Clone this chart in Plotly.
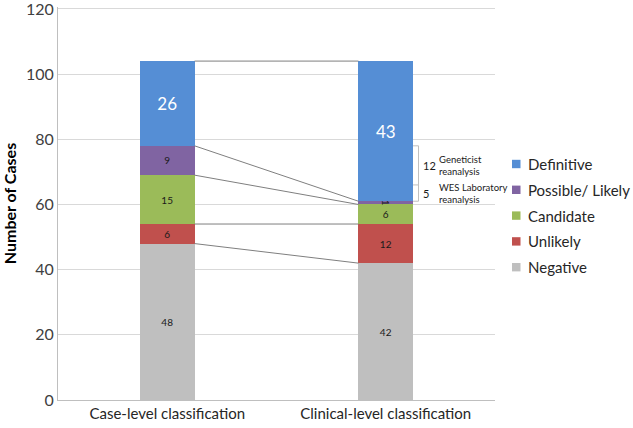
import plotly.graph_objects as go

categories = ["Case-level classification", "Clinical-level classification"]
series_names = ["Negative", "Unlikely", "Candidate", "Possible/ Likely", "Definitive"]
negative = [48, 42]
unlikely = [6, 12]
candidate = [15, 6]
possible = [9, 1]
definitive = [26, 43]
colors = ["#BFBFBF", "#C0504D", "#9BBB59", "#8064A2", "#558ED5"]
reanalysis_counts = [12, 5]
reanalysis_labels = ["Geneticist<br>reanalysis", "WES Laboratory<br>reanalysis"]
y_ticks = [0, 20, 40, 60, 80, 100, 120]

FONT = "Lato"
values = [negative, unlikely, candidate, possible, definitive]
bar_width = 0.25

W, H = 633, 428
ML, MR, MT, MB = 58, 138, 7, 28
PW, PH = W - ML - MR, H - MT - MB


def px_x(px):
    return (px - ML) / PW


def px_y(py):
    return (H - MB - py) / PH


fig = go.Figure()
for i, (name, vals, col) in enumerate(zip(series_names, values, colors)):
    big = name == "Definitive"
    fig.add_trace(go.Bar(
        x=categories, y=vals, name=name, marker_color=col, marker_line_width=0,
        width=bar_width, text=[str(v) for v in vals], textposition="inside",
        insidetextanchor="middle", constraintext="none",
        textfont=dict(family=FONT, size=17 if big else 10, color="white" if big else "#1a1a1a"),
        showlegend=False,
    ))

# cumulative boundaries
cum = []
run = [0, 0]
for vals in values:
    run = [run[0] + vals[0], run[1] + vals[1]]
    cum.append(list(run))

x0 = 0 + bar_width / 2
x1 = 1 - bar_width / 2
connectors = [(c[0], c[1]) for c in reversed(cum)]
for ya, yb in connectors:
    fig.add_shape(type="line", xref="x", yref="y", x0=x0, x1=x1, y0=ya, y1=yb,
                  line=dict(color="#7F7F7F", width=1))

# brackets on right bar
bx0 = 1 + bar_width / 2
bx1 = bx0 + 0.025
b_top = cum[3][0]  # 78
b_mid = b_top - reanalysis_counts[0]  # 66
b_bot = b_mid - reanalysis_counts[1]  # 61
for ya, yb in [(b_top, b_mid), (b_mid, b_bot)]:
    fig.add_shape(type="line", xref="x", yref="y", x0=bx0, x1=bx1, y0=ya, y1=ya,
                  line=dict(color="#BFBFBF", width=1))
    fig.add_shape(type="line", xref="x", yref="y", x0=bx1, x1=bx1, y0=ya, y1=yb,
                  line=dict(color="#BFBFBF", width=1))
fig.add_shape(type="line", xref="x", yref="y", x0=bx0, x1=bx1, y0=b_bot, y1=b_bot,
              line=dict(color="#BFBFBF", width=1))

for (ya, yb), cnt, lab in zip([(b_top, b_mid), (b_mid, b_bot)], reanalysis_counts, reanalysis_labels):
    ym = (ya + yb) / 2
    fig.add_annotation(x=bx1 + 0.02, y=ym, xref="x", yref="y", text=str(cnt), showarrow=False,
                       xanchor="left", xshift=-2, font=dict(family=FONT, size=11, color="#1a1a1a"))
    fig.add_annotation(x=bx1 + 0.093, y=ym, xref="x", yref="y", text=lab, showarrow=False,
                       xanchor="left", align="left", xshift=-2,
                       font=dict(family=FONT, size=9.5, color="#1a1a1a"))

# legend (Definitive on top), drawn as swatches + labels
LEG_SQ_X0, LEG_SQ_X1, LEG_TXT_X = 512, 520.5, 526
LEG_Y0, LEG_STEP, LEG_HALF = 164, 25.8, 4.2
for k, idx in enumerate(reversed(range(len(series_names)))):
    cy = LEG_Y0 + k * LEG_STEP
    fig.add_shape(type="rect", xref="paper", yref="paper",
                  x0=px_x(LEG_SQ_X0), x1=px_x(LEG_SQ_X1),
                  y0=px_y(cy + LEG_HALF), y1=px_y(cy - LEG_HALF),
                  fillcolor=colors[idx], line=dict(width=0))
    fig.add_annotation(xref="paper", yref="paper", x=px_x(LEG_TXT_X), y=px_y(cy),
                       text=series_names[idx], showarrow=False, xanchor="left", yanchor="middle",
                       font=dict(family=FONT, size=15, color="#262626"))

fig.update_layout(
    width=W, height=H, barmode="stack",
    margin=dict(l=ML, r=MR, t=MT, b=MB),
    paper_bgcolor="white", plot_bgcolor="white",
    font=dict(family=FONT, color="#404040"),
    showlegend=False,
)
fig.update_xaxes(range=[-0.5, 1.5], showline=True, linecolor="#BFBFBF", ticks="", automargin=False,
                 tickfont=dict(family=FONT, size=15, color="#262626"))
fig.update_yaxes(range=[0, 120.6], tickvals=y_ticks, showgrid=True, gridcolor="#D9D9D9", showline=True,
                 linecolor="#BFBFBF", zeroline=False, ticks="", automargin=False,
                 ticklabeloverflow="allow",
                 tickfont=dict(family=FONT, size=16, color="#404040"),
                 title=dict(text="<b>Number of Cases</b>", font=dict(family=FONT, size=16, color="#000000"),
                            standoff=8))

fig.write_html("out.html", config={"displayModeBar": False},
               post_script="document.body.style.margin='0';")
